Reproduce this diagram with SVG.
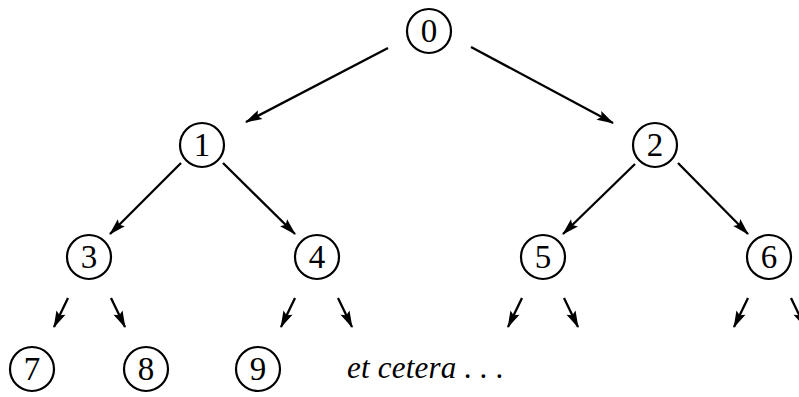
<svg xmlns="http://www.w3.org/2000/svg" width="799" height="397" viewBox="0 0 799 397">
  <style>
    .node circle { fill: #fff; stroke: #000; stroke-width: 2.2; }
    .node text { font-family: "Liberation Serif", "DejaVu Serif", serif; font-size: 33px; text-anchor: middle; fill: #000; }
    .edge { stroke: #000; stroke-width: 2.3; fill: none; marker-end: url(#head); }
    .etc { font-family: "Liberation Serif", "DejaVu Serif", serif; font-size: 31px; font-style: italic; fill: #000; }
  </style>
  <defs>
    <!-- narrow filled arrowhead, tip at the end of the line -->
    <marker id="head" markerUnits="userSpaceOnUse" markerWidth="20" markerHeight="12" refX="16" refY="5" orient="auto" overflow="visible">
      <path d="M0,0 L17,5 L0,10 L3,5 Z" fill="#000"/>
    </marker>
  </defs>

  <g id="connectors">
    <line class="edge" x1="388" y1="48" x2="246" y2="122"/>
    <line class="edge" x1="471" y1="47" x2="613" y2="123"/>
    <line class="edge" x1="181" y1="163" x2="110" y2="234"/>
    <line class="edge" x1="223" y1="163" x2="295" y2="234"/>
    <line class="edge" x1="635" y1="164" x2="563" y2="234"/>
    <line class="edge" x1="678" y1="163" x2="748" y2="234"/>
    <line class="edge" x1="68" y1="298" x2="54" y2="327"/>
    <line class="edge" x1="111" y1="298" x2="125" y2="327"/>
    <line class="edge" x1="295" y1="298" x2="281" y2="327"/>
    <line class="edge" x1="338" y1="298" x2="352" y2="327"/>
    <line class="edge" x1="522" y1="298" x2="508" y2="327"/>
    <line class="edge" x1="564" y1="298" x2="578" y2="327"/>
    <line class="edge" x1="748" y1="298" x2="734" y2="327"/>
    <line class="edge" x1="791" y1="298" x2="805" y2="327"/>
  </g>

  <g id="n0" class="node"><circle cx="429" cy="31" r="22"/><text x="429" y="42">0</text></g>
  <g id="n1" class="node"><circle cx="202" cy="145" r="22"/><text x="202" y="156">1</text></g>
  <g id="n2" class="node"><circle cx="655" cy="145" r="22"/><text x="655" y="156">2</text></g>
  <g id="n3" class="node"><circle cx="89" cy="257" r="22"/><text x="89" y="268">3</text></g>
  <g id="n4" class="node"><circle cx="317" cy="257" r="22"/><text x="317" y="268">4</text></g>
  <g id="n5" class="node"><circle cx="543" cy="257" r="22"/><text x="543" y="268">5</text></g>
  <g id="n6" class="node"><circle cx="769" cy="257" r="22"/><text x="769" y="268">6</text></g>
  <g id="n7" class="node"><circle cx="32" cy="369" r="22"/><text x="32" y="380">7</text></g>
  <g id="n8" class="node"><circle cx="146" cy="369" r="22"/><text x="146" y="380">8</text></g>
  <g id="n9" class="node"><circle cx="258" cy="369" r="22"/><text x="258" y="380">9</text></g>

  <text class="etc" x="347" y="378" textLength="157" lengthAdjust="spacing">et  cetera . . .</text>
</svg>
